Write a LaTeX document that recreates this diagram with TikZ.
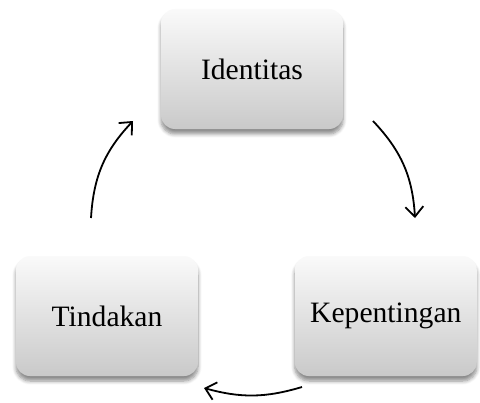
\documentclass[tikz,border=0pt]{standalone}
\usepackage{fontspec}
\setmainfont{Liberation Serif}
\usetikzlibrary{arrows.meta,positioning,shadows.blur}

\begin{document}
\begin{tikzpicture}[x=0.5pt, y=0.5pt,
      stage/.style={
        rectangle,
        rounded corners=7pt,
        top color=gray!4, bottom color=gray!42,
        blur shadow={shadow xshift=0pt, shadow yshift=-2.5pt, shadow blur steps=6, shadow opacity=45},
        minimum width=91pt,
        minimum height=60pt,
        align=center,
        font=\fontsize{14.8}{18}\selectfont
      },
      arrow/.style={
        -{Straight Barb[length=5pt,width=9pt]},
        line width=0.9pt
      }
    ]
      \useasboundingbox (0,0) rectangle (480,402);
      \node[stage] (tindakan) at (107,86) {Tindakan};
      \node[stage, right=48pt of tindakan] (kepentingan) {Kepentingan};
      \node[stage] (identitas) at (252,333) {Identitas};
      % free ends of the cycle arrows
      \coordinate (tin-out) at (91,184);
      \coordinate (ide-in) at (133,281);
      \coordinate (ide-out) at (373,281);
      \coordinate (kep-in) at (415,184);
      \coordinate (kep-out) at (302,15);
      \coordinate (tin-in) at (204,14);
      \draw[arrow] (tin-out) to[bend left=20] (ide-in);
      \draw[arrow] (ide-out) to[bend left=20] (kep-in);
      \draw[arrow] (kep-out) to[bend left=16] (tin-in);
    \end{tikzpicture}
\end{document}
